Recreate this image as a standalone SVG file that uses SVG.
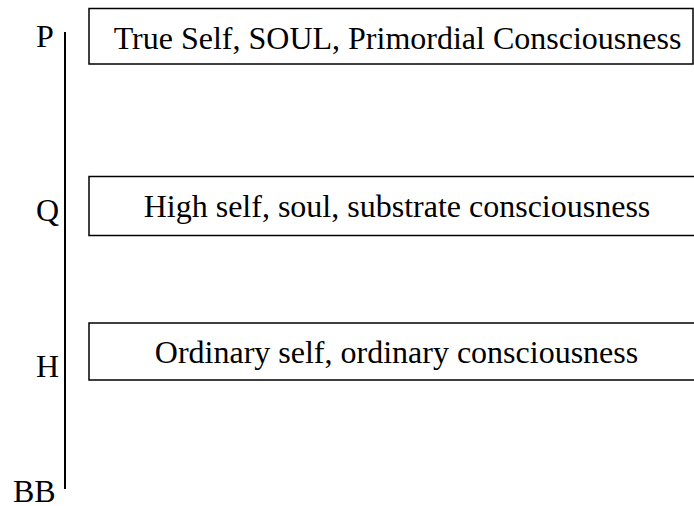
<svg xmlns="http://www.w3.org/2000/svg" width="694" height="506" viewBox="0 0 694 506">
<style>
text{font-family:"Liberation Serif","Times New Roman",serif;font-size:32px;fill:#000}
.box{fill:#fff;stroke:#000;stroke-width:1.5}
.c{text-anchor:middle}
</style>
<rect width="694" height="506" fill="#fff"/>
<g id="connectors">
<line x1="65" y1="32" x2="65" y2="489" stroke="#000" stroke-width="2"/>
</g>
<g id="label-P"><text x="36" y="47">P</text></g>
<g id="label-Q"><text x="36" y="221">Q</text></g>
<g id="label-H"><text x="36" y="377">H</text></g>
<g id="label-BB"><text x="13" y="502">BB</text></g>
<g id="node-true-self">
<rect class="box" x="89" y="8.5" width="604" height="55.5"/>
<text class="c" x="397.5" y="49">True Self, SOUL, Primordial Consciousness</text>
</g>
<g id="node-high-self">
<rect class="box" x="89" y="176.5" width="620" height="59"/>
<text class="c" x="397" y="217">High self, soul, substrate consciousness</text>
</g>
<g id="node-ordinary-self">
<rect class="box" x="89" y="323" width="620" height="57"/>
<text class="c" x="396.5" y="363">Ordinary self, ordinary consciousness</text>
</g>
</svg>
